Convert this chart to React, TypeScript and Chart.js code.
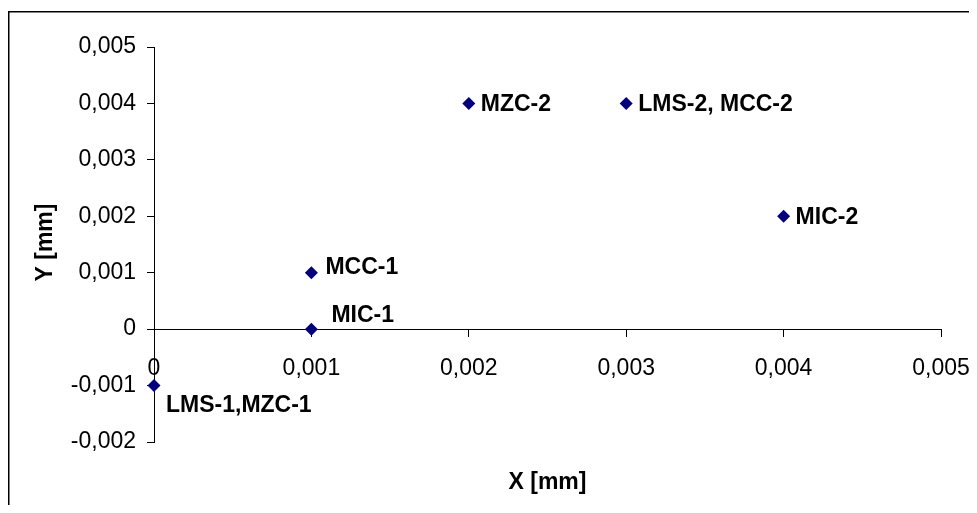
import { useEffect, useRef } from 'react';
import { Chart, registerables } from 'chart.js';

Chart.register(...registerables);

// ---- data ----
const xValues = [0, 0.001, 0.001, 0.002, 0.003, 0.004];
const yValues = [-0.001, 0, 0.001, 0.004, 0.004, 0.002];
const pointLabels = ['LMS-1,MZC-1', 'MIC-1', 'MCC-1', 'MZC-2', 'LMS-2, MCC-2', 'MIC-2'];
const xTicks = [0, 0.001, 0.002, 0.003, 0.004, 0.005];
const yTicks = [-0.002, -0.001, 0, 0.001, 0.002, 0.003, 0.004, 0.005];
const xAxisTitle = 'X [mm]';
const yAxisTitle = 'Y [mm]';

// ---- style (label placement relative to each point, in px) ----
const labelOffsets: [number, number][] = [
  [12, 20],
  [20, -13],
  [14, -5],
  [12, 1],
  [12, 1],
  [12, 1],
];

const FONT_FAMILY = "'Liberation Sans', Arial, sans-serif";
const FONT_SIZE = 23;
const MARKER = '#000080';

const fmt = (v: number) => (Math.abs(v) < 1e-12 ? '0' : v.toFixed(3).replace('.', ','));

const decorPlugin = {
  id: 'decor',
  afterDatasetsDraw(chart: any) {
    const ctx = chart.ctx as CanvasRenderingContext2D;
    const meta = chart.getDatasetMeta(0);
    ctx.save();
    ctx.fillStyle = '#000';
    ctx.font = `bold ${FONT_SIZE}px ${FONT_FAMILY}`;
    ctx.textAlign = 'left';
    ctx.textBaseline = 'middle';
    meta.data.forEach((el: any, i: number) => {
      const [dx, dy] = labelOffsets[i] || [12, 1];
      ctx.fillText(pointLabels[i], el.x + dx, el.y + dy);
    });
    ctx.restore();
  },
  afterDraw(chart: any) {
    const ctx = chart.ctx as CanvasRenderingContext2D;
    const area = chart.chartArea;
    ctx.save();
    // axis titles
    ctx.fillStyle = '#000';
    ctx.font = `bold ${FONT_SIZE}px ${FONT_FAMILY}`;
    ctx.textAlign = 'center';
    ctx.textBaseline = 'middle';
    ctx.fillText(xAxisTitle, (area.left + area.right) / 2, area.bottom + 41);
    ctx.translate(38, (area.top + area.bottom) / 2 - 2);
    ctx.rotate(-Math.PI / 2);
    ctx.fillText(yAxisTitle, 0, 0);
    ctx.restore();
    // outer frame
    ctx.save();
    ctx.strokeStyle = '#000';
    ctx.lineWidth = 1.5;
    ctx.strokeRect(0.75, 3.75, 3000, 3000);
    ctx.restore();
  },
};

export default function App() {
  const ref = useRef<HTMLCanvasElement | null>(null);

  useEffect(() => {
    if (!ref.current) return;
    const tickFont = { family: FONT_FAMILY, size: FONT_SIZE };
    const chart = new Chart(ref.current, {
      type: 'scatter',
      data: {
        datasets: [
          {
            data: xValues.map((x, i) => ({ x, y: yValues[i] })),
            pointStyle: 'rectRot',
            pointRadius: 6.5,
            pointHoverRadius: 6.5,
            pointBorderWidth: 0,
            backgroundColor: MARKER,
            borderColor: MARKER,
            showLine: false,
            clip: false as any,
          },
        ],
      },
      options: {
        animation: false,
        responsive: false,
        devicePixelRatio: 1,
        layout: { padding: { left: 0, top: 39, right: 28, bottom: 63 } },
        plugins: {
          legend: { display: false },
          tooltip: { enabled: false },
        },
        scales: {
          x: {
            type: 'linear',
            position: { y: 0 } as any,
            min: 0,
            max: 0.005,
            afterBuildTicks: (s: any) => {
              s.ticks = xTicks.map((v) => ({ value: v }));
            },
            afterFit: (s: any) => {
              s.paddingLeft = 0;
              s.paddingRight = 0;
            },
            grid: {
              drawOnChartArea: false,
              drawTicks: true,
              tickLength: 7,
              color: '#000',
              tickColor: '#000',
            },
            border: { display: true, color: '#000', width: 1 },
            ticks: {
              font: tickFont,
              color: '#000',
              padding: 19,
              maxRotation: 0,
              autoSkip: false,
              callback: (v: any) => fmt(Number(v)),
            },
          },
          y: {
            type: 'linear',
            position: 'left',
            min: -0.002,
            max: 0.005,
            afterBuildTicks: (s: any) => {
              s.ticks = yTicks.map((v) => ({ value: v }));
            },
            afterFit: (s: any) => {
              s.width = 146;
              s.paddingTop = 0;
              s.paddingBottom = 0;
            },
            grid: {
              drawOnChartArea: false,
              drawTicks: true,
              tickLength: 7,
              color: '#000',
              tickColor: '#000',
            },
            border: { display: true, color: '#000', width: 1 },
            ticks: {
              font: tickFont,
              color: '#000',
              padding: 11,
              autoSkip: false,
              callback: (v: any) => fmt(Number(v)),
            },
          },
        },
      },
      plugins: [decorPlugin],
    });
    return () => chart.destroy();
  }, []);

  return <canvas ref={ref} width={961} height={497} style={{ display: 'block' }} />;
}
